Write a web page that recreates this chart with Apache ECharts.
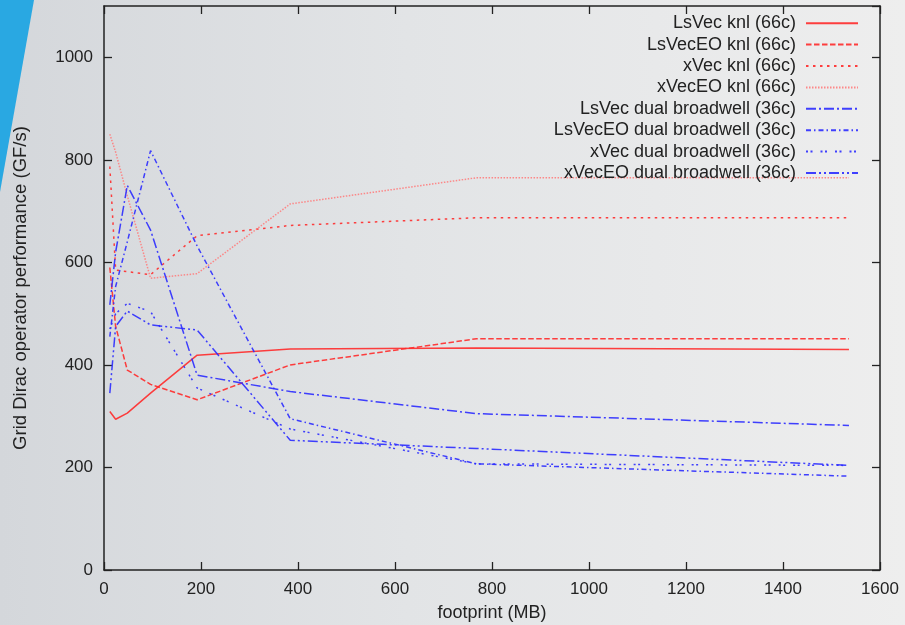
<!DOCTYPE html>
<html>
<head>
<meta charset="utf-8">
<script src="https://cdn.jsdelivr.net/npm/echarts@6/dist/echarts.min.js"></script>
<style>
  html, body { margin: 0; padding: 0; }
  #chart {
    width: 905px; height: 625px;
    background: linear-gradient(to right, #d4d7db 0%, #e2e4e6 45%, #eeeeee 100%);
  }
</style>
</head>
<body>
<div id="chart"></div>
<script>
// footprint (MB)
const footprint = [12, 24, 48, 96, 192, 384, 768, 1536];

// performance (GF/s)
const lsVecKnl   = [309, 294, 306, 345, 419, 431, 433, 430];
const lsVecEOKnl = [590, 475, 390, 362, 332, 400, 451, 451];
const xVecKnl    = [787, 585, 582, 576, 652, 672, 687, 687];
const xVecEOKnl  = [850, 815, 730, 569, 578, 714, 765, 765];
const lsVecBdw   = [517, 620, 750, 663, 380, 348, 305, 282];
const lsVecEOBdw = [455, 553, 640, 818, 632, 295, 207, 183];
const xVecBdw    = [470, 500, 520, 504, 355, 275, 207, 204];
const xVecEOBdw  = [345, 475, 505, 478, 468, 253, 237, 204];

const seriesNames = [
  'LsVec knl (66c)', 'LsVecEO knl (66c)', 'xVec knl (66c)', 'xVecEO knl (66c)',
  'LsVec dual broadwell (36c)', 'LsVecEO dual broadwell (36c)',
  'xVec dual broadwell (36c)', 'xVecEO dual broadwell (36c)'
];
const seriesValues = [lsVecKnl, lsVecEOKnl, xVecKnl, xVecEOKnl, lsVecBdw, lsVecEOBdw, xVecBdw, xVecEOBdw];

const xTicks = { min: 0, max: 1600, interval: 200 };
const yTicks = { min: 0, max: 1100, interval: 200 };

const RED = '#ff2a2a', PINK = '#ff7d7d', BLUE = '#2b2bff';
const styles = [
  { color: RED,  type: 'solid' },
  { color: RED,  type: [5.5, 2.5] },
  { color: RED,  type: [2.5, 4.5] },
  { color: PINK, type: [1.5, 1.5] },
  { color: BLUE, type: [10, 3, 2, 3] },
  { color: BLUE, type: [5, 3, 1.5, 3] },
  { color: BLUE, type: [2, 2.5, 2, 8] },
  { color: BLUE, type: [10, 3, 2, 3, 2, 3] }
];

const chart = echarts.init(document.getElementById('chart'), null, { renderer: 'canvas' });
const FONT = 'Liberation Sans, Arial, sans-serif';
const TXT = '#222';

const series = seriesNames.map((name, i) => ({
  name,
  type: 'line',
  data: footprint.map((x, j) => [x, seriesValues[i][j]]),
  showSymbol: false,
  symbol: 'none',
  animation: false,
  lineStyle: { color: styles[i].color, width: 1.5, type: styles[i].type, cap: 'butt', opacity: 0.9 },
  itemStyle: { color: styles[i].color }
}));

const axisCommon = {
  type: 'value',
  axisLine: { show: true, onZero: false, lineStyle: { color: TXT, width: 1.5 } },
  axisTick: { show: true, inside: true, length: 8, lineStyle: { color: TXT, width: 1.3 } },
  splitLine: { show: false }
};
const plain = v => String(v);

chart.setOption({
  animation: false,
  textStyle: { fontFamily: FONT },
  graphic: [{
    type: 'polygon', z: -10, silent: true,
    shape: { points: [[0, 0], [34, 0], [0, 192]] },
    style: { fill: '#29a8e2' }
  }],
  grid: { left: 104, right: 25, top: 6, bottom: 55, show: false, outerBoundsMode: 'none', containLabel: false },
  legend: {
    orient: 'vertical',
    right: 41, top: 7.5,
    align: 'right',
    itemWidth: 52, itemHeight: 14, itemGap: 0,
    itemStyle: { opacity: 0 },
    textStyle: { fontSize: 18, lineHeight: 21.4, color: TXT, fontFamily: FONT, padding: [0, 5, 0, 0] },
    data: seriesNames
  },
  xAxis: [
    Object.assign({}, axisCommon, {
      position: 'bottom', min: xTicks.min, max: xTicks.max, interval: xTicks.interval,
      name: 'footprint (MB)', nameLocation: 'middle', nameGap: 34,
      nameTextStyle: { fontSize: 18, color: TXT, fontFamily: FONT },
      axisLabel: { fontSize: 17, color: TXT, margin: 11, fontFamily: FONT, formatter: plain }
    }),
    Object.assign({}, axisCommon, {
      position: 'top', min: xTicks.min, max: xTicks.max, interval: xTicks.interval,
      axisLabel: { show: false }
    })
  ],
  yAxis: [
    Object.assign({}, axisCommon, {
      position: 'left', min: yTicks.min, max: yTicks.max, interval: yTicks.interval,
      name: 'Grid Dirac operator performance (GF/s)', nameLocation: 'middle', nameGap: 74,
      nameTextStyle: { fontSize: 18.5, color: TXT, fontFamily: FONT },
      axisLabel: { fontSize: 17, color: TXT, margin: 11, showMaxLabel: false, fontFamily: FONT, formatter: plain }
    }),
    Object.assign({}, axisCommon, {
      position: 'right', min: yTicks.min, max: yTicks.max, interval: yTicks.interval,
      axisLabel: { show: false }
    })
  ],
  series
});
</script>
</body>
</html>
